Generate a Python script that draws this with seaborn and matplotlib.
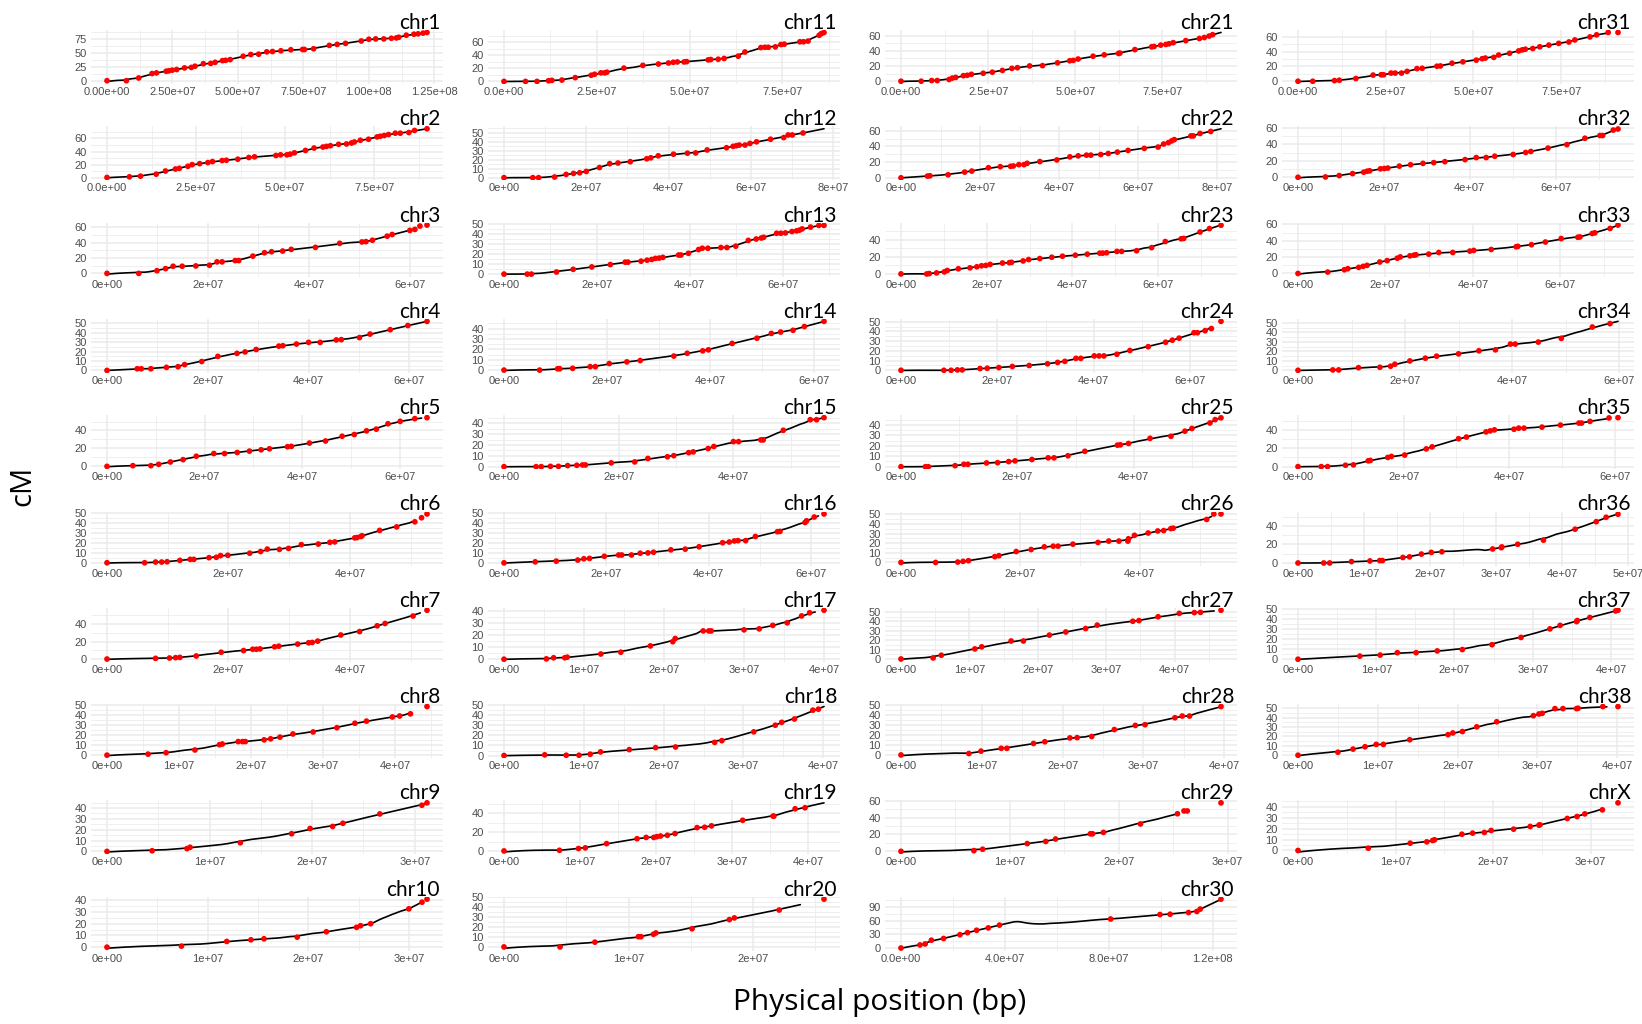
import numpy as np
import pandas as pd
import matplotlib
matplotlib.use("Agg")
import matplotlib.pyplot as plt
import seaborn as sns

# Marker positions (Mb) and genetic map positions (cM) per chromosome
pos_chr1 = [0, 7.4, 12.1, 17.2, 18.9, 22.6, 23.6, 24.9, 26.6, 29.6, 32.2, 33.6, 36.8, 39.6, 41.3, 44.1, 45.3, 47, 52, 54.9, 57.9, 61, 63.2, 66.4, 70.2, 74.7, 75.4, 78.9, 84.9, 87.9, 91.1, 97.1, 100, 102.6, 105.7, 108.6, 110.5, 111.4, 114.3, 117.2, 118.8, 120.7, 122.2]
cm_chr1 = [0, 0, 4.9, 12.8, 14, 17, 17.7, 18.9, 20, 23, 23.8, 26, 30.5, 31, 33, 36, 36.6, 37.8, 43.9, 47, 47.6, 51.8, 52.4, 53.7, 55.5, 56, 56, 57.3, 63.4, 65.2, 67, 71.3, 74.4, 75, 75, 76.2, 76.8, 78, 81.7, 83.5, 84.1, 85.4, 86.6]
pos_chr2 = [0, 6.3, 9.4, 13.8, 16.4, 19.2, 20.3, 22.7, 23.9, 26, 28.3, 29.6, 32.3, 33.5, 36.7, 39.8, 41.4, 47.4, 48.7, 50.5, 51.4, 52.6, 55.7, 58.1, 60.6, 61.6, 62.7, 65, 67.2, 68.6, 69.4, 71.1, 73.4, 75.8, 76.7, 77.8, 79, 80.9, 82.3, 84.7, 86.3, 89.8]
cm_chr2 = [1, 2, 3, 6, 10.7, 13.7, 14.7, 17.8, 20.3, 21.8, 23.4, 24.9, 26.4, 26.9, 28.4, 31, 32, 34, 35, 35, 36, 38, 41.6, 45.2, 46.7, 47.7, 48.7, 50.8, 51.3, 52.8, 54.3, 56.9, 58.4, 61.9, 62.9, 64, 65.5, 67.5, 67.5, 68.5, 71.6, 74.1]
pos_chr3 = [0, 6.3, 9.9, 11.6, 13.1, 14.9, 17.6, 20.3, 21.8, 22.8, 25.4, 26.1, 28.9, 31.2, 32.6, 34.8, 36.5, 41.3, 46.1, 50.5, 51.3, 52.6, 55.5, 56.5, 60, 61, 62, 63.4]
cm_chr3 = [0, 0, 3.5, 6.2, 9.3, 9.3, 9.7, 10.6, 15, 15, 16.7, 16.7, 22.5, 26.9, 28.2, 29.1, 31.3, 33.9, 39.2, 41, 41.4, 43.2, 48.5, 50.7, 56, 57.3, 61.7, 63]
pos_chr4 = [0, 6, 6.8, 8.7, 11.8, 14.1, 15.4, 18.8, 22, 25.8, 27.4, 29.6, 34.1, 34.9, 37.6, 40, 42.3, 45.5, 46.5, 50.1, 52.2, 56.2, 59.7, 63.5]
cm_chr4 = [0, 1.8, 1.8, 1.8, 3.3, 4, 6.2, 9.5, 15, 18.2, 19.7, 22.3, 25.9, 26.3, 28.1, 29.9, 29.9, 32.5, 32.8, 35, 38.7, 43.4, 47.8, 52.2]
pos_chr5 = [0, 5.3, 9, 10.6, 13, 15.6, 18.3, 21.9, 24.1, 26.7, 29.2, 31.6, 33.3, 37, 37.8, 41.5, 44.8, 48.2, 50.7, 53.2, 55.2, 57.6, 60.1, 63.1, 65.6]
cm_chr5 = [0, 0.8, 0.8, 2.3, 4.9, 7.5, 11.3, 14.3, 14.3, 15.5, 17, 18.5, 19.6, 21.9, 22.3, 26, 28.3, 33.6, 35.5, 39.6, 41.5, 47.5, 50.2, 53.2, 54.3]
pos_chr6 = [0, 6.2, 8, 9, 9.9, 12, 13.7, 14.3, 16.8, 18, 18.7, 19.9, 23.5, 25.3, 26.4, 28.4, 29.9, 32, 34.8, 36.7, 37.5, 40.8, 41.2, 41.8, 42, 44.9, 47.7, 50.7, 51.8, 52.7]
cm_chr6 = [0, 0, 0.7, 0.7, 1, 2.4, 3.4, 3.4, 5.1, 5.5, 7.2, 7.5, 9.6, 11.3, 13.7, 13.4, 14.4, 18.2, 18.8, 20.5, 20.9, 25, 25.3, 26.4, 27.1, 32.5, 36, 41.1, 45.2, 49]
pos_chr7 = [0, 8, 10.3, 11.3, 12, 14.7, 18.8, 22.5, 24, 24.6, 25.2, 27.6, 28.3, 31.4, 33.2, 33.8, 34.7, 38.5, 41.6, 44.5, 45.8, 50.4, 52.7]
cm_chr7 = [0, 0.8, 1.2, 1.6, 1.9, 3.5, 7.8, 9.7, 11.2, 11.2, 11.6, 14, 14.7, 17.1, 18.6, 19, 20.5, 27.5, 31.4, 38, 40.7, 49.2, 55.8]
pos_chr8 = [0, 5.7, 8.2, 12.2, 15.6, 16, 18.2, 18.8, 19.2, 21.8, 22.7, 24, 25.8, 28.6, 31.9, 34.4, 36, 39.6, 40.6, 42.1, 44.4]
cm_chr8 = [0, 1, 2.4, 5.1, 10.3, 11, 13.4, 13.4, 13.4, 15.1, 16.1, 17.8, 20.9, 22.9, 27.1, 31.5, 33.6, 37.7, 38.7, 40.8, 48.0]
pos_chr9 = [0, 4.4, 7.8, 8.1, 13, 18, 19.8, 22, 23, 26.6, 30.7, 31.2]
cm_chr9 = [0, 0.6, 2.6, 3.8, 8, 16.3, 21.1, 23, 25.9, 34.5, 42.5, 44.7]
pos_chr10 = [0, 7.4, 11.9, 14.3, 15.6, 18.9, 21.8, 24.8, 25.2, 26.2, 30, 31.3, 31.8]
cm_chr10 = [0, 0.9, 4.9, 6.3, 7.2, 8.6, 13.2, 17, 18.4, 20.1, 32.8, 38.5, 41.1]
pos_chr11 = [0, 5.8, 8.9, 12, 12.9, 15.6, 19.2, 23.5, 24.4, 26.1, 27.1, 27.7, 32.3, 37.4, 41.6, 44.3, 45.6, 46.7, 48.5, 49.2, 55, 55.7, 57.7, 59.3, 63.1, 64.9, 69.2, 70.3, 71.2, 73.1, 74.6, 75.5, 79.7, 80.7, 81.9, 84.9, 85.5, 86.2]
cm_chr11 = [0, 0, 0, 1, 1.6, 2.1, 5.8, 9.5, 11, 13.2, 13.2, 14.2, 20.5, 24.7, 26.8, 28.4, 29.5, 30, 30, 30.5, 33.2, 33.7, 34.2, 35.3, 38.9, 45.3, 52.1, 52.6, 52.6, 53.2, 56.8, 57.4, 61.1, 61.1, 62.1, 71.1, 73.7, 75.3]
pos_chr12 = [0, 7, 8.4, 12.3, 15.1, 16.9, 18.4, 20, 23.2, 25.7, 27.7, 30.7, 34.7, 35.7, 37.5, 41.2, 44.6, 46.6, 49.4, 54.1, 55.7, 56.5, 57.2, 58.6, 59.8, 61.4, 64.8, 68, 69.1, 70.1, 72.7]
cm_chr12 = [0, 0, 0, 0.7, 3.6, 4.7, 5.4, 6.9, 11.2, 15.5, 16.2, 17.7, 20.9, 22, 24.2, 26, 27.1, 27.4, 30.7, 33.2, 34.7, 35.4, 36.1, 36.1, 37.9, 39.7, 42.6, 44.4, 47.3, 47.3, 49.5]
pos_chr13 = [0, 5, 5.9, 11.3, 14.9, 18.9, 22.9, 26.1, 26.7, 29.5, 30.8, 31.8, 32.6, 33.4, 34.2, 37.6, 38.1, 39.7, 41.9, 42.7, 43.9, 46.7, 48, 49.9, 52.6, 54.3, 55.4, 55.9, 58.7, 59.6, 60.6, 62, 63, 63.6, 64.2, 66, 67.8, 68.9]
cm_chr13 = [0, 0, 0, 2.1, 4.8, 7.2, 9.6, 12, 12, 13, 14, 14.7, 15.8, 16.1, 16.8, 19.2, 19.2, 20.9, 24.7, 26, 26, 26.7, 26.7, 28.1, 33.9, 35.3, 36.3, 37, 41.1, 41.1, 41.4, 42.8, 43.5, 44.2, 45.5, 47.3, 49, 49]
pos_chr14 = [0, 6.9, 10.4, 10.8, 13.3, 16.7, 17.7, 20.4, 23.8, 26.4, 32.9, 35.5, 38.5, 39.6, 44.2, 49, 51.8, 53.6, 56, 58.2, 62]
cm_chr14 = [0, 0, 1.3, 1.3, 1.7, 3.3, 3.3, 6.3, 7.9, 9.2, 13.5, 16.2, 18.5, 19.5, 25.7, 30.7, 35.3, 36.6, 38.3, 41.9, 46.9]
pos_chr15 = [0, 5.6, 6.5, 8.1, 9.5, 11.1, 12.7, 13.7, 14.2, 18.7, 22.8, 25.1, 28.5, 29.6, 32.2, 33, 35.6, 36.6, 40, 40.9, 44.8, 45.2, 48.7, 53.4, 54.5, 55.8]
cm_chr15 = [0, 0, 0, 0.3, 0.3, 1, 1.3, 1.6, 1.6, 3.5, 4.4, 7.6, 9.2, 10.2, 13, 13.7, 16.8, 18.7, 23.2, 23.2, 24.8, 24.8, 33.7, 43.5, 43.5, 45.4]
pos_chr16 = [0, 6.1, 10.2, 14.4, 15.6, 16.7, 19.6, 22.4, 23, 24.9, 26.6, 28.1, 29.2, 32.6, 35.4, 38.1, 42.7, 44, 45, 45.7, 47.2, 49.1, 53.4, 53.9, 58.8, 59.1, 60.6, 62.5]
cm_chr16 = [0, 1, 1.7, 2.8, 4.1, 4.5, 6.6, 7.9, 7.9, 7.9, 9.7, 10, 10.7, 13.1, 13.8, 16.2, 20.3, 21, 22.1, 22.4, 22.4, 26.6, 31.4, 31.7, 40.7, 42.4, 46.2, 49.3]
pos_chr17 = [0, 5.3, 6.2, 7.6, 7.9, 12.1, 14.6, 18.3, 21.1, 21.4, 24.9, 25.6, 25.9, 30, 31.9, 33.6, 35.4, 37.2, 38.2, 40]
cm_chr17 = [0, 0.3, 1.2, 1.2, 1.7, 4.3, 5.8, 11, 14.5, 17.1, 23.4, 23.4, 23.4, 24.3, 25.1, 28, 30.1, 35.8, 38.4, 40.5]
pos_chr18 = [0, 5.1, 7.8, 9.4, 10.8, 12.1, 15.7, 19, 21.5, 26.4, 27.3, 31.3, 34, 34.8, 36.4, 38.7, 39.4]
cm_chr18 = [0, 0.7, 0.3, 0.3, 1.3, 3.6, 5.9, 7.9, 8.5, 13.1, 14.8, 23.6, 30.2, 33.1, 36.4, 45.2, 46.2]
pos_chr19 = [0, 7.3, 9.8, 10.7, 13.5, 17.5, 18.7, 19.7, 20.1, 20.6, 21.5, 22.5, 25.4, 26.4, 27.3, 31.4, 35.4, 35.5, 38.3, 39.6]
cm_chr19 = [0, 0.7, 2.6, 3.3, 7.8, 13, 14.4, 14.4, 15.2, 15.9, 16.7, 18.5, 24.8, 25.2, 26.7, 32.6, 37, 37, 44.8, 45.9]
pos_chr20 = [0, 4.5, 7.3, 10.8, 11, 12, 12.2, 15.1, 18.1, 18.5, 22.1, 25.7]
cm_chr20 = [0, 0, 4.8, 10.3, 10.3, 12.7, 14, 18.2, 27.4, 29.1, 37, 47.9]
pos_chr21 = [0, 5.8, 8.8, 10.4, 13.8, 14.7, 15.7, 17.9, 19, 20.2, 23.6, 26.2, 29.1, 31.8, 33.4, 36.9, 40.6, 44.9, 48.4, 49.4, 50.8, 55.1, 58.3, 62.4, 62.8, 67.1, 71.9, 72.6, 74.5, 76, 76.9, 78.1, 81.7, 85.6, 87, 88.4, 89.4]
cm_chr21 = [0, 0, 0.9, 0.9, 2.3, 4.1, 5, 7.3, 7.8, 9.1, 10.5, 11.9, 14.2, 16.9, 17.8, 20.1, 20.5, 24.2, 26.9, 27.4, 29.2, 32.9, 34.7, 36.5, 37, 41.6, 45.2, 45.7, 47.5, 48.4, 49.3, 50.7, 53.4, 56.2, 57.5, 59.4, 61.2]
pos_chr22 = [0, 6.7, 7.3, 11.9, 16.1, 17.9, 22.1, 25.1, 27.7, 28.4, 29.8, 31.1, 31.9, 35.1, 39.4, 42.7, 44.8, 46.9, 48, 50.5, 52.4, 54.7, 57.4, 61.5, 65, 66.4, 67.6, 68.4, 69.1, 73.3, 73.9, 75.6, 78.3]
cm_chr22 = [0, 2.2, 2.6, 3.9, 7.3, 8.6, 12.9, 14.2, 14.7, 15.1, 16.8, 16.8, 18.5, 20.7, 22.8, 26.7, 28, 28.9, 28.9, 29.7, 31, 32.8, 34.9, 37.5, 39.2, 43.1, 44.8, 47, 48.7, 53.4, 53.4, 56.5, 59.1]
pos_chr23 = [0, 6, 6.6, 8.3, 10.1, 10.8, 13.4, 16.1, 17.7, 18.8, 19.8, 20.8, 23.7, 25.3, 25.8, 28.5, 29.8, 32.4, 35.2, 37.7, 40.7, 43.5, 46.4, 47.1, 48, 50.4, 51.5, 55, 58.5, 61.7, 65.4, 66, 69.8, 72, 74.7]
cm_chr23 = [0, 0, 0.4, 1.2, 2.4, 4, 6, 7.1, 8.3, 9.5, 9.9, 11.1, 12.7, 13.1, 13.5, 15.1, 16.7, 17.9, 19.4, 20.6, 21.8, 23, 24.2, 24.2, 24.6, 26.2, 26.2, 27, 30.6, 37.7, 40.9, 41.3, 48.8, 52.8, 56.7]
pos_chr24 = [0, 8.9, 10.4, 11.7, 12.7, 16.4, 17.9, 20.3, 23.1, 26.6, 30.4, 32.5, 34, 36.3, 37.3, 40.1, 41.1, 42.1, 44.8, 47.5, 51.3, 54.9, 56.3, 57.7, 60.8, 61.5, 63.1, 64.4, 66.4]
cm_chr24 = [0, 0, 0, 0.4, 0.4, 1.8, 2.1, 2.8, 3.9, 4.9, 6.7, 8.1, 9.2, 12.3, 12.3, 14.8, 14.8, 14.8, 16.5, 20.4, 24.3, 28.9, 31, 33.1, 38.7, 38.7, 40.8, 43, 50.4]
pos_chr25 = [0, 4.2, 4.7, 9.3, 10.8, 11.5, 14.7, 16.6, 18.5, 19.6, 22.5, 25.3, 26.3, 28.7, 31.6, 37.2, 37.7, 39.1, 42.8, 46.4, 48.8, 50, 53.1, 54, 55]
cm_chr25 = [0, 0, 0, 1, 2.3, 2.3, 3.6, 3.9, 4.9, 5.6, 6.9, 8.5, 8.5, 10.5, 14.8, 20.7, 21, 22.3, 27.2, 29.2, 34.1, 36.7, 42, 45.2, 46.9]
pos_chr26 = [0, 5.8, 9.5, 10.4, 11.3, 15.7, 16.4, 19.3, 21.8, 24, 25.5, 26.3, 28.8, 33, 34.8, 36.5, 38, 38.1, 39.1, 41.4, 43, 44, 45.2, 45.6, 51.2, 52.4, 53.6]
cm_chr26 = [0, 0, 0.4, 1.1, 1.8, 6, 7, 11.3, 13.4, 16.2, 16.9, 16.9, 19, 20.8, 22.2, 22.2, 22.2, 24.6, 28.2, 30.6, 32.7, 33.1, 35.2, 35.6, 44.7, 50.4, 50.4]
pos_chr27 = [0, 4.7, 5.9, 10.8, 11.8, 16.1, 17.9, 21.7, 24.1, 27, 28.7, 33.9, 34.8, 37.6, 40.7, 42.9, 43.8, 46.8]
cm_chr27 = [0, 1.1, 4, 10.7, 12.9, 19.1, 19.1, 25.4, 28.7, 32.4, 36, 40.1, 40.8, 44.9, 48.5, 49.3, 49.6, 51.8]
pos_chr28 = [0, 8.4, 9.9, 12.4, 13.1, 16.4, 17.8, 20.9, 21.8, 23.6, 26.4, 29, 30.2, 33.9, 34.8, 35.7, 39.6]
cm_chr28 = [0, 1.4, 3.8, 6.6, 6.6, 11.4, 13.1, 16.9, 17.2, 18.3, 25.2, 29.3, 30, 36.9, 38.6, 38.6, 48.0]
pos_chr29 = [0, 6.7, 7.5, 11.6, 13.3, 14.2, 17.4, 17.6, 18.6, 22, 25.4, 26, 26.3, 29.4]
cm_chr29 = [0, 0.8, 2.5, 9.2, 11.7, 14.6, 20.8, 20.8, 22.5, 32.5, 44.6, 47.9, 47.9, 57.5]
pos_chr30 = [0, 7.3, 9.3, 11.7, 16.4, 22.7, 25.6, 29.1, 33.6, 37.9, 80.7, 99.7, 103.6, 110.7, 113.9, 115.2, 123.2]
cm_chr30 = [0, 6.8, 9, 17.3, 21.1, 29.4, 33.9, 39.2, 44.4, 50.5, 64, 73.8, 74.5, 78.3, 80.6, 85.8, 107.7]
pos_chr31 = [0, 4.2, 10.4, 11.8, 16.5, 21.4, 23.7, 24.4, 26.5, 27.7, 29.5, 31.1, 33.9, 35.4, 39.6, 40.6, 43.9, 47, 50.8, 52.5, 53.4, 55.8, 57.2, 60.3, 62.9, 63.9, 64.8, 66.9, 68.9, 71.5, 74.3, 77.2, 78.9, 83.2, 85.1, 88.4, 91.2]
cm_chr31 = [0, 0, 0.9, 1.4, 3.7, 8.3, 8.7, 8.7, 11, 11, 11, 13.3, 17, 17.4, 20.2, 20.6, 24.3, 26.1, 28.4, 30.3, 31.2, 32.1, 35.3, 37.6, 40.8, 42.2, 43.1, 44, 46.3, 48.6, 50.9, 52.8, 55.5, 59.6, 62.4, 65.6, 65.6]
pos_chr32 = [0, 6.4, 9.6, 12.7, 15.3, 16.1, 16.7, 19.2, 20.1, 20.9, 23.6, 26.2, 29.1, 31.6, 34.2, 38.9, 41.5, 43.8, 45.8, 50.1, 53, 54.2, 58.2, 62.6, 66.8, 70.3, 70.9, 73.4, 74.5]
cm_chr32 = [0, 0.4, 2.1, 4.5, 6.2, 7.4, 7.9, 10.3, 10.7, 11.2, 13.6, 15.3, 16.9, 17.8, 19, 21.5, 24, 24, 25.6, 27.7, 30.2, 31.4, 35.5, 39.7, 47.5, 50.8, 50.8, 57.4, 58.7]
pos_chr33 = [0, 6.8, 10.6, 11.4, 13.9, 14.9, 15.8, 18.7, 20.4, 22.7, 23.4, 25.6, 26.5, 27, 29.9, 32.2, 35.4, 39.3, 40.2, 44.2, 49.9, 50.3, 53.4, 56.6, 60.2, 64, 64.5, 67.3, 67.9, 71.4, 73.2]
cm_chr33 = [0, 1.7, 4.5, 5.8, 7.4, 8.7, 9.9, 14, 15.7, 18.6, 20.2, 21.5, 22.3, 22.7, 23.6, 25.6, 25.6, 27.3, 28.1, 29.3, 32.6, 33.1, 35.1, 38.4, 42.6, 44.2, 44.6, 48.8, 49.6, 55, 59.1]
pos_chr34 = [0, 6.5, 7.6, 11.3, 15.3, 17.3, 18.1, 20.9, 23.8, 25.9, 30, 33.8, 36.9, 39.7, 40.6, 44.9, 49.2, 55, 58.3]
cm_chr34 = [0, 0.4, 0.4, 2.8, 3.2, 4.3, 6.4, 9.9, 12.8, 14.9, 17.4, 20.6, 21.6, 27.7, 27.7, 29.8, 33.7, 45.7, 49.3]
pos_chr35 = [0, 4.4, 5.6, 9, 10.5, 13.3, 13.7, 17, 17.7, 20.2, 24.3, 25.4, 30.4, 31.9, 35.6, 36.4, 37.2, 40.9, 41.8, 42.8, 46.2, 49.7, 53.2, 53.7, 55.3, 58.9, 60.6]
cm_chr35 = [0, 0, 0, 1.5, 1.9, 6.3, 6.7, 10, 11.1, 12.6, 19.3, 21.5, 30.4, 32.2, 37.8, 38.9, 40, 40.7, 41.9, 41.9, 43, 45.2, 47.4, 47.4, 49.3, 53, 53.3]
pos_chr36 = [0, 3.9, 4.8, 8.1, 10.9, 12.4, 12.8, 15.9, 16.9, 18.7, 20.2, 21.8, 29.5, 30.8, 30.9, 33.3, 37.2, 42, 45.2, 46.7, 48.5]
cm_chr36 = [0, 0, 0, 1.5, 2.2, 2.6, 2.6, 5.9, 6.6, 9.6, 11.4, 12.1, 15.1, 16.5, 17.3, 20.2, 24.6, 36.4, 44.5, 49.3, 52.6]
pos_chr37 = [0, 7.9, 10.5, 12.7, 15.1, 17.8, 21, 24.8, 28.5, 32.2, 33.5, 35.6, 35.7, 37.3, 40.6, 40.9]
cm_chr37 = [0, 3.1, 4.1, 6.5, 6.5, 8.2, 9.6, 14.4, 21.6, 30.1, 33.6, 37.3, 38.4, 41.4, 47.9, 48.6]
pos_chr38 = [0, 5, 6.9, 8.4, 9.8, 10.7, 14, 18.8, 19.4, 20.6, 22.4, 24.9, 29.5, 30.2, 30.6, 32.2, 33.2, 34.9, 35.1, 38.2, 40.1]
cm_chr38 = [0, 3.2, 6.5, 9, 11.5, 11.5, 16.5, 21.9, 23.7, 25.2, 30.2, 35.6, 42.1, 43.9, 44.6, 49.6, 49.6, 49.6, 50, 51.8, 51.8]
pos_chrX = [0, 7.2, 11.5, 13.2, 13.8, 14, 16.8, 17.9, 19.1, 19.8, 22.1, 23.8, 24.7, 24.8, 27.6, 28.6, 29.4, 31.2, 32.8]
cm_chrX = [0, 2.1, 6.7, 7.9, 9.1, 9.8, 14.9, 15.9, 16.5, 18.3, 19.5, 22, 23.2, 23.5, 29.3, 31.1, 33.5, 37.2, 43.6]

chromosomes = [f"chr{i}" for i in range(1, 39)] + ["chrX"]

# End of the fitted map curve along each chromosome (Mb)
curve_end = [122.2, 89.8, 61.0, 63.5, 64.5, 50.9, 51.6, 42.1, 31.0, 31.3,
             86.2, 77.8, 68.9, 62.0, 55.8, 61.4, 38.9, 40.1, 42.1, 23.8,
             91.8, 80.9, 74.7, 64.6, 55.0, 52.0, 45.8, 39.6, 25.3, 123.2,
             88.4, 74.5, 73.2, 59.8, 58.9, 48.5, 40.9, 38.7, 31.2]

# Axis break spacing per chromosome: x in Mb, y in cM
x_step = [25, 25, 20, 20, 20, 20, 20, 10, 10, 10,
          25, 20, 20, 20, 20, 20, 10, 10, 10, 10,
          25, 20, 20, 20, 20, 20, 10, 10, 10, 40,
          25, 20, 20, 20, 20, 10, 10, 10, 10]
y_step = [25, 20, 20, 10, 20, 10, 20, 10, 10, 10,
          20, 10, 10, 10, 10, 10, 10, 10, 20, 10,
          20, 20, 20, 10, 10, 10, 10, 10, 20, 30,
          20, 20, 20, 10, 20, 20, 10, 10, 10]

x_label = "Physical position (bp)"
y_label = "cM"

g = globals()
frames = []
for name in chromosomes:
    frames.append(pd.DataFrame({"chrom": name,
                                "pos": np.array(g[f"pos_{name}"]) * 1e6,
                                "cM": g[f"cm_{name}"]}))
markers = pd.concat(frames, ignore_index=True)


def map_curve(x, y, x_end, n=400, frac=0.02, k=2, nn_scale=0.7):
    """Local linear smooth of cM on position, Gaussian kernel with a
    nearest-neighbour floor on the bandwidth so gaps stay well behaved."""
    x = np.asarray(x, float)
    y = np.asarray(y, float)
    grid = np.linspace(x.min(), x_end, n)
    span = max(x_end, x.max()) - x.min()
    d = x[None, :] - grid[:, None]
    kth = np.sort(np.abs(d), axis=1)[:, min(k, len(x) - 1)]
    h = np.maximum(frac * span, nn_scale * kth)[:, None]
    w = np.exp(-0.5 * (d / h) ** 2)
    s0 = w.sum(1)
    s1 = (w * d).sum(1)
    s2 = (w * d * d).sum(1)
    t0 = (w * y).sum(1)
    t1 = (w * d * y).sum(1)
    fit = (s2 * t0 - s1 * t1) / (s0 * s2 - s1 ** 2)
    return grid, fit


def sci_labels(vals):
    for digits in range(0, 4):
        labs = [f"{v:.{digits}e}" for v in vals]
        if all(abs(float(l) - v) <= 1e-9 * max(1.0, abs(v)) for l, v in zip(labs, vals)):
            return labs
    return [f"{v:.3e}" for v in vals]


def breaks(lo, hi, step):
    k0 = int(np.ceil(lo / step - 1e-9))
    k1 = int(np.floor(hi / step + 1e-9))
    major = [k * step for k in range(k0, k1 + 1)]
    ext = [(k0 - 1) * step] + major + [(k1 + 1) * step]
    minor = [(a + b) / 2 for a, b in zip(ext[:-1], ext[1:])]
    minor = [m for m in minor if lo <= m <= hi]
    return major, minor


sns.set_theme(style="white")
plt.rcParams["font.family"] = ["Liberation Sans", "DejaVu Sans"]

W, H = 1642, 1024
fig = plt.figure(figsize=(W / 100, H / 100), dpi=100)
fig.patch.set_facecolor("white")

col_left = [91, 488, 885, 1282]
panel_w, panel_h = 352, 54
row_top0, row_pitch = 30, 96.3
grid_col = "#ebebeb"
title_font = ["Lato", "DejaVu Sans"]
label_font = ["Open Sans", "DejaVu Sans"]

for i, name in enumerate(chromosomes):
    col, row = divmod(i, 10)
    left = col_left[col]
    top = row_top0 + row * row_pitch
    ax = fig.add_axes([left / W, 1 - (top + panel_h) / H, panel_w / W, panel_h / H])

    d = markers[markers["chrom"] == name]
    cx, cy = map_curve(d["pos"].values, d["cM"].values, curve_end[i] * 1e6)
    curve = pd.DataFrame({"pos": cx, "cM": cy})

    sns.lineplot(data=curve, x="pos", y="cM", ax=ax, color="black",
                 linewidth=1.2, sort=False, estimator=None, zorder=2)
    sns.scatterplot(data=d, x="pos", y="cM", ax=ax, color="#ff0000",
                    s=17, linewidth=0, edgecolor="none", zorder=3)

    xmin = min(d["pos"].min(), cx.min())
    xmax = max(d["pos"].max(), cx.max())
    ymin = min(d["cM"].min(), cy.min())
    ymax = max(d["cM"].max(), cy.max())
    xpad = 0.05 * (xmax - xmin)
    ypad = 0.05 * (ymax - ymin)
    xlo, xhi = xmin - xpad, xmax + xpad
    ylo, yhi = ymin - ypad, ymax + ypad
    ax.set_xlim(xlo, xhi)
    ax.set_ylim(ylo, yhi)

    xs = x_step[i] * 1e6
    xmaj, xmin_ = breaks(xlo, xhi, xs)
    ymaj, ymin_ = breaks(ylo, yhi, y_step[i])
    ax.set_xticks(xmaj)
    ax.set_xticklabels(sci_labels(xmaj))
    ax.set_xticks(xmin_, minor=True)
    ax.set_yticks(ymaj)
    ax.set_yticklabels([f"{v:g}" for v in ymaj])
    ax.set_yticks(ymin_, minor=True)

    ax.grid(which="major", color=grid_col, linewidth=1.1, zorder=0)
    ax.grid(which="minor", color=grid_col, linewidth=0.55, zorder=0)
    ax.set_axisbelow(True)
    for sp in ax.spines.values():
        sp.set_visible(False)
    ax.tick_params(which="both", length=0)
    ax.tick_params(axis="x", pad=2.2, labelsize=8, labelcolor="#4d4d4d")
    ax.tick_params(axis="y", pad=3.2, labelsize=8, labelcolor="#4d4d4d")
    ax.set_xlabel("")
    ax.set_ylabel("")
    ax.set_facecolor("white")

    ax.text(1.0 - 3 / panel_w, 1.0 + 1 / panel_h, name, transform=ax.transAxes,
            ha="right", va="baseline", fontsize=15, family=title_font,
            color="black", clip_on=False)

fig.text(880 / W, 1 - 1010 / H, x_label, ha="center", va="baseline",
         fontsize=21.5, family=label_font, color="black")
fig.text(23 / W, 1 - 486 / H, y_label, ha="center", va="center", rotation=90,
         fontsize=21, family=label_font, color="black")

fig.savefig("out.png", dpi=100, facecolor="white")
